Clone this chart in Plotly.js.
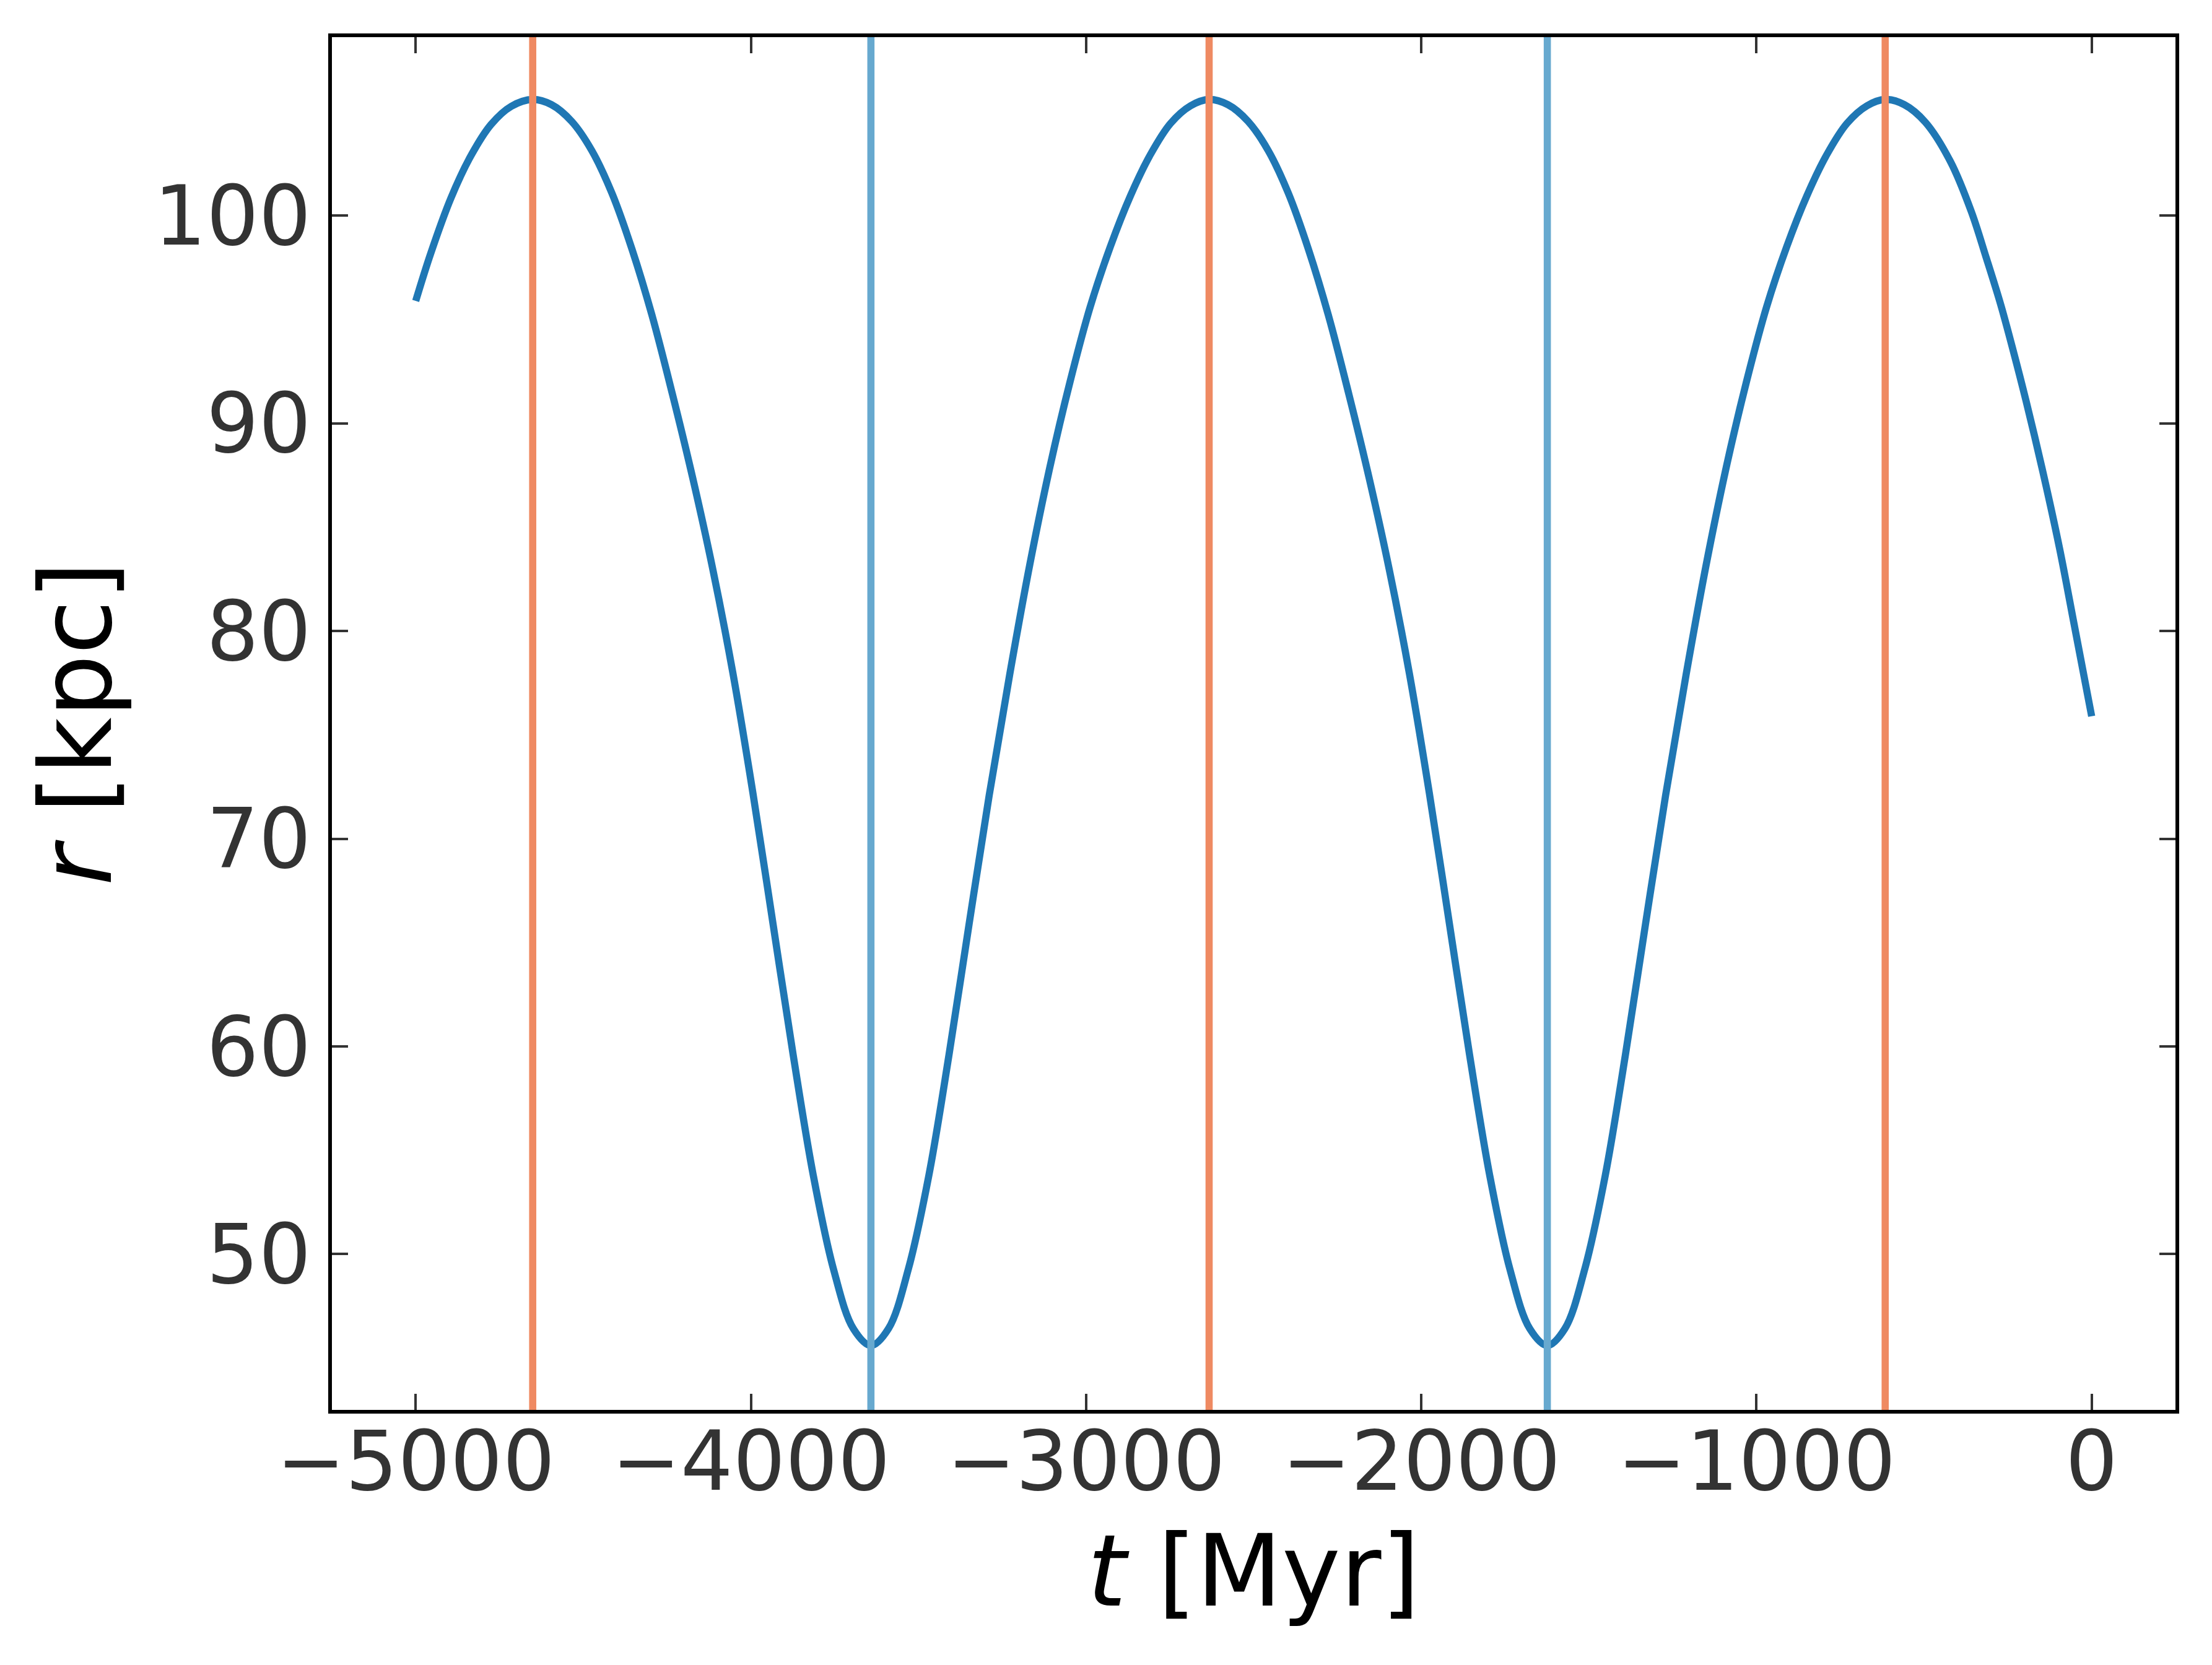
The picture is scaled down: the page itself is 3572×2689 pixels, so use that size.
<!DOCTYPE html>
<html>
<head>
<meta charset="utf-8">
<script src="https://cdn.plot.ly/plotly-3.0.1.min.js"></script>
<style>
  html, body { margin: 0; padding: 0; background: #fff; }
</style>
</head>
<body>
<div id="orbit"></div>
<script>
// orbit radius vs time
var tOrbit = [
  -5000, -4955, -4895, -4835, -4775, -4715, -4651, -4595, -4535, -4475,
  -4415, -4355, -4295, -4234, -4174, -4114, -4054, -3994, -3934, -3874,
  -3814, -3754, -3694, -3642, -3590, -3530, -3469, -3409, -3349, -3289,
  -3228, -3168, -3108, -3048, -2988, -2928, -2868, -2808, -2748, -2688,
  -2633, -2577, -2517, -2457, -2397, -2337, -2277, -2216, -2156, -2096,
  -2036, -1976, -1916, -1856, -1796, -1736, -1676, -1624, -1572, -1512,
  -1451, -1391, -1331, -1271, -1210, -1150, -1090, -1030, -970, -910,
  -850, -790, -730, -670, -616, -559, -496, -421, -359, -315,
  -271, -234, -196, -146, -96, -52, 0
]
var rOrbit = [
  95.9, 98.2, 100.85, 102.9, 104.4, 105.27, 105.6, 105.35, 104.55, 103.15,
  101.1, 98.4, 95.2, 91.4, 87.4, 83.0, 78.0, 72.2, 65.9, 59.6,
  53.8, 49.3, 46.4, 45.6, 46.4, 49.3, 53.8, 59.6, 65.9, 72.1,
  77.9, 83.2, 87.9, 92.0, 95.6, 98.5, 100.95, 102.95, 104.45, 105.3,
  105.6, 105.35, 104.55, 103.15, 101.1, 98.4, 95.2, 91.4, 87.4, 83.0,
  78.0, 72.2, 65.9, 59.6, 53.8, 49.3, 46.4, 45.6, 46.4, 49.3,
  53.8, 59.6, 65.9, 72.1, 77.9, 83.2, 87.9, 92.0, 95.6, 98.5,
  100.95, 102.95, 104.45, 105.3, 105.6, 105.35, 104.5, 102.6, 100.2, 98.0,
  95.7, 93.5, 91.1, 87.7, 84.0, 80.3, 75.9
]
// apocentre (orange) and pericentre (blue) times
var tApo = [-4651, -2633, -616]
var tPeri = [-3642, -1624]

var xTicks = [-5000, -4000, -3000, -2000, -1000, 0]
var yTicks = [50, 60, 70, 80, 90, 100]

var data = [
  {
    type: "scatter",
    mode: "lines",
    x: tOrbit,
    y: rOrbit,
    line: { color: "#1f77b4", width: 11.6, shape: "spline", smoothing: 1, simplify: false },
    hoverinfo: "skip",
  },
]

var shapes = []
tApo.forEach(function (t) {
  shapes.push({
    type: "line", xref: "x", yref: "paper",
    x0: t, x1: t, y0: 0, y1: 1,
    line: { color: "#ef8a62", width: 11.6 },
  })
})
tPeri.forEach(function (t) {
  shapes.push({
    type: "line", xref: "x", yref: "paper",
    x0: t, x1: t, y0: 0, y1: 1,
    line: { color: "#67a9cf", width: 11.6 },
  })
})

var axisCommon = {
  showgrid: false,
  zeroline: false,
  showline: true,
  linecolor: "#000",
  linewidth: 6,
  mirror: "ticks",
  ticks: "inside",
  ticklen: 26,
  tickwidth: 4,
  tickcolor: "#333",
  tickfont: { family: "DejaVu Sans", size: 133, color: "#333" },
}

var layout = {
  width: 3572,
  height: 2689,
  margin: { t: 60, r: 59, l: 536, b: 412 },
  paper_bgcolor: "#fff",
  plot_bgcolor: "#fff",
  showlegend: false,
  shapes: shapes,
  xaxis: Object.assign({}, axisCommon, {
    range: [-5250, 250],
    tickmode: "array",
    tickvals: xTicks,
    ticklabelstandoff: -37,
    title: {
      text: "<i>t</i> [Myr]",
      font: { family: "DejaVu Sans", size: 160, color: "#000" },
      standoff: 47,
    },
  }),
  yaxis: Object.assign({}, axisCommon, {
    range: [42.5, 108.6],
    tickmode: "array",
    tickvals: yTicks,
    ticklabelstandoff: 1,
    title: {
      text: "<i>r</i> [kpc]",
      font: { family: "DejaVu Sans", size: 160, color: "#000" },
      standoff: 17,
    },
  }),
}

Plotly.newPlot("orbit", data, layout, { displayModeBar: false, staticPlot: true })
</script>
</body>
</html>
